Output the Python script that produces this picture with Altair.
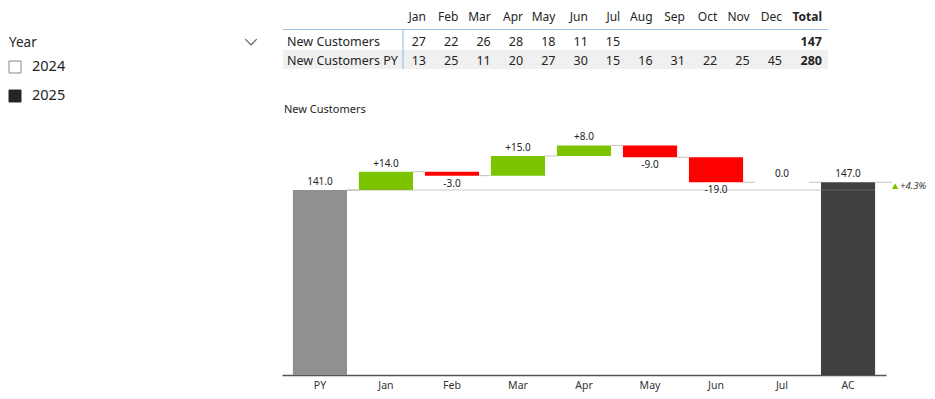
import altair as alt
import pandas as pd

# ---------------- data ----------------
months = ["Jan", "Feb", "Mar", "Apr", "May", "Jun", "Jul", "Aug", "Sep", "Oct", "Nov", "Dec"]
new_customers = [27, 22, 26, 28, 18, 11, 15]
new_customers_py = [13, 25, 11, 20, 27, 30, 15, 16, 31, 22, 25, 45]
row_labels = ["New Customers", "New Customers PY"]
years = ["2024", "2025"]
year_selected = [False, True]

FONT = "Noto Sans"
TXT = "#252423"
GREEN = "#7cc400"
RED = "#ff0000"
PYC = "#909090"
ACC = "#404040"
GRID = "#9cc3e5"
TOP = 5
W, H = 919, 362

# ---------------- slicer ----------------
slicer_df = pd.DataFrame({"year": years, "sel": year_selected})
ys_sl = alt.Scale(type="point", domain=years, range=[54, 83], padding=0)

sl_boxes = alt.Chart(slicer_df).mark_square(size=144, strokeWidth=1, opacity=1).encode(
    x=alt.value(7),
    y=alt.Y("year:N", scale=ys_sl, axis=None),
    fill=alt.condition("datum.sel", alt.value("#252423"), alt.value("white")),
    stroke=alt.condition("datum.sel", alt.value("#252423"), alt.value("#8a8886")),
)
sl_text = alt.Chart(slicer_df).mark_text(
    align="left", baseline="middle", font=FONT, fontSize=14.5, color=TXT
).encode(x=alt.value(24), y=alt.Y("year:N", scale=ys_sl, axis=None), text="year:N")
sl_title = alt.Chart(pd.DataFrame({"t": ["Year"]})).mark_text(
    align="left", baseline="middle", font=FONT, fontSize=13.5, color=TXT
).encode(x=alt.value(1), y=alt.value(30), text="t:N")
sl_chev = alt.Chart(pd.DataFrame({"t": ["v"]})).mark_point(
    shape="M-1,-0.5L0,0.5L1,-0.5", size=130, filled=False, stroke="#605e5c", strokeWidth=1.2, opacity=1
).encode(x=alt.value(243), y=alt.value(29))
slicer = alt.layer(sl_boxes, sl_text, sl_title, sl_chev)

# ---------------- table ----------------
body_rows = []
for i, m in enumerate(months):
    if i < len(new_customers):
        body_rows.append({"row": row_labels[0], "col": m, "v": str(new_customers[i])})
    body_rows.append({"row": row_labels[1], "col": m, "v": str(new_customers_py[i])})
body_df = pd.DataFrame(body_rows)
totals_df = pd.DataFrame({
    "row": row_labels,
    "col": ["Total", "Total"],
    "v": [str(sum(new_customers)), str(sum(new_customers_py))],
})

HEAD_Y = 4.4
HEAD_FS = 12
xs_m = alt.Scale(type="point", domain=months, range=[418, 774], padding=0)
ys_r = alt.Scale(type="band", domain=row_labels, range=[18, 56], paddingInner=0, paddingOuter=0)

tb_bg = alt.Chart(pd.DataFrame({"row": [row_labels[1]]})).mark_rect(color="#f0f0f0").encode(
    x=alt.value(275), x2=alt.value(820), y=alt.Y("row:N", scale=ys_r, axis=None)
)
tb_rowlab = alt.Chart(pd.DataFrame({"row": row_labels})).mark_text(
    align="left", baseline="middle", font=FONT, fontSize=12.5, color=TXT, dy=1
).encode(x=alt.value(279), y=alt.Y("row:N", scale=ys_r, axis=None), text="row:N")
tb_head = alt.Chart(pd.DataFrame({"col": months})).mark_text(
    align="right", baseline="middle", font=FONT, fontSize=HEAD_FS, color=TXT
).encode(x=alt.X("col:N", scale=xs_m, axis=None), y=alt.value(HEAD_Y), text="col:N")
tb_body = alt.Chart(body_df).mark_text(
    align="right", baseline="middle", font=FONT, fontSize=12.5, color=TXT, dy=1
).encode(
    x=alt.X("col:N", scale=xs_m, axis=None),
    y=alt.Y("row:N", scale=ys_r, axis=None),
    text="v:N",
)
table = alt.layer(tb_bg, tb_rowlab, tb_head, tb_body)

xs_t = alt.Scale(type="point", domain=["Total"], range=[804, 824], padding=0.5)
tt_head = alt.Chart(pd.DataFrame({"col": ["Total"]})).mark_text(
    align="right", baseline="middle", font=FONT, fontSize=HEAD_FS, fontWeight="bold", color=TXT
).encode(x=alt.X("col:N", scale=xs_t, axis=None), y=alt.value(HEAD_Y), text="col:N")
tt_body = alt.Chart(totals_df).mark_text(
    align="right", baseline="middle", font=FONT, fontSize=12.5, fontWeight="bold", color=TXT, dy=1
).encode(
    x=alt.X("col:N", scale=xs_t, axis=None),
    y=alt.Y("row:N", scale=ys_r, axis=None),
    text="v:N",
)
totals = alt.layer(tt_head, tt_body)

one = pd.DataFrame({"k": [0]})
tb_hline = alt.Chart(one).mark_rule(color=GRID, strokeWidth=1.2).encode(
    x=alt.value(275), x2=alt.value(820), y=alt.value(16.5)
)
tb_vline = alt.Chart(one).mark_rule(color=GRID, strokeWidth=1.2).encode(
    x=alt.value(395), y=alt.value(16.5), y2=alt.value(56)
)

# ---------------- waterfall ----------------
n = len(new_customers)
py_total = sum(new_customers_py[:n])
ac_total = sum(new_customers)
cats = ["PY"] + months[:n] + ["AC"]

wf_rows = [{"cat": "PY", "start": 0, "end": py_total, "kind": "PY",
            "label": f"{py_total:.1f}", "dir": "up"}]
run = py_total
for m, c, p in zip(months, new_customers, new_customers_py):
    d = c - p
    wf_rows.append({"cat": m, "start": run, "end": run + d,
                    "kind": "pos" if d >= 0 else "neg",
                    "label": "0.0" if d == 0 else f"{d:+.1f}",
                    "dir": "up" if d >= 0 else "down"})
    run += d
wf_rows.append({"cat": "AC", "start": 0, "end": ac_total, "kind": "AC",
                "label": f"{ac_total:.1f}", "dir": "up"})
wf_df = pd.DataFrame(wf_rows)

conn_df = pd.DataFrame([
    {"a": wf_rows[i]["cat"], "b": wf_rows[i + 1]["cat"], "lvl": wf_rows[i]["end"]}
    for i in range(len(wf_rows) - 1)
])
pct = (ac_total - py_total) / py_total * 100
ref_df = pd.DataFrame([{"a": "PY", "b": "AC", "py": py_total, "ac": ac_total,
                        "mid": (py_total + ac_total) / 2, "pct": f"{pct:+.1f}%"}])

R0, R1 = 274, 878
P_IN, P_OUT = 0.18, 0.165
step = (R1 - R0) / (len(cats) - P_IN + 2 * P_OUT)
half = step * (1 - P_IN) / 2

xs_wf = alt.Scale(type="band", domain=cats, range=[R0, R1], paddingInner=P_IN, paddingOuter=P_OUT)
ys_wf = alt.Scale(domain=[0, 276], nice=False, zero=True)
ax = alt.Axis(orient="bottom", title=None, ticks=False, grid=False, labelAngle=0,
              labelFont=FONT, labelFontSize=10.5, labelColor="#333333", labelPadding=5,
              domainColor="#555555", domainWidth=1.5)

wf_conn = alt.Chart(conn_df).mark_rule(
    color="#c4c4c4", strokeWidth=1, xOffset=half, x2Offset=-half
).encode(
    x=alt.X("a:N", scale=xs_wf, axis=ax),
    x2="b:N",
    y=alt.Y("lvl:Q", scale=ys_wf, axis=None),
)
wf_bars = alt.Chart(wf_df).mark_bar(opacity=1).encode(
    x=alt.X("cat:N", scale=xs_wf, axis=ax),
    y=alt.Y("start:Q", scale=ys_wf, axis=None),
    y2="end:Q",
    color=alt.Color("kind:N", legend=None,
                    scale=alt.Scale(domain=["PY", "pos", "neg", "AC"],
                                    range=[PYC, GREEN, RED, ACC])),
)
wf_pyline = alt.Chart(ref_df).mark_rule(
    color="#8c8c8c", opacity=0.45, strokeWidth=1, xOffset=half, x2Offset=half
).encode(
    x=alt.X("a:N", scale=xs_wf, axis=ax),
    x2="b:N",
    y=alt.Y("py:Q", scale=ys_wf, axis=None),
)
wf_acline = alt.Chart(ref_df).mark_rule(
    color="#c4c4c4", strokeWidth=1, xOffset=half, x2Offset=half + 17
).encode(
    x=alt.X("b:N", scale=xs_wf, axis=ax),
    x2="b:N",
    y=alt.Y("ac:Q", scale=ys_wf, axis=None),
)
wf_tri = alt.Chart(ref_df).mark_point(
    shape="triangle-up", filled=True, size=42, color=GREEN, opacity=1, xOffset=half + 20
).encode(
    x=alt.X("b:N", scale=xs_wf, axis=ax),
    y=alt.Y("mid:Q", scale=ys_wf, axis=None),
)
wf_pct = alt.Chart(ref_df).mark_text(
    align="left", baseline="middle", font=FONT, fontSize=9.5, fontStyle="italic",
    color="#333333", xOffset=half + 25
).encode(
    x=alt.X("b:N", scale=xs_wf, axis=ax),
    y=alt.Y("mid:Q", scale=ys_wf, axis=None),
    text="pct:N",
)
wf_up = alt.Chart(wf_df).transform_filter("datum.dir == 'up'").mark_text(
    baseline="bottom", dy=-3, font=FONT, fontSize=10, color=TXT
).encode(
    x=alt.X("cat:N", scale=xs_wf, axis=ax),
    y=alt.Y("end:Q", scale=ys_wf, axis=None),
    text="label:N",
)
wf_down = alt.Chart(wf_df).transform_filter("datum.dir == 'down'").mark_text(
    baseline="top", dy=3, font=FONT, fontSize=10, color=TXT
).encode(
    x=alt.X("cat:N", scale=xs_wf, axis=ax),
    y=alt.Y("end:Q", scale=ys_wf, axis=None),
    text="label:N",
)
waterfall = alt.layer(wf_conn, wf_bars, wf_pyline, wf_acline, wf_tri, wf_pct, wf_up, wf_down)

wf_title = alt.Chart(pd.DataFrame({"t": ["New Customers"]})).mark_text(
    align="left", baseline="middle", font=FONT, fontSize=11, color=TXT
).encode(x=alt.value(276), y=alt.value(97), text="t:N")

chart = alt.layer(
    slicer, table, totals, tb_hline, tb_vline, waterfall, wf_title
).resolve_scale(
    x="independent", y="independent", color="independent"
).properties(
    width=W, height=H,
    autosize=alt.AutoSizeParams(type="none"),
    padding={"left": 0, "top": TOP, "right": 0, "bottom": 24},
).configure_view(stroke=None)

chart.save("out.html", embed_options={"renderer": "svg", "actions": False})
